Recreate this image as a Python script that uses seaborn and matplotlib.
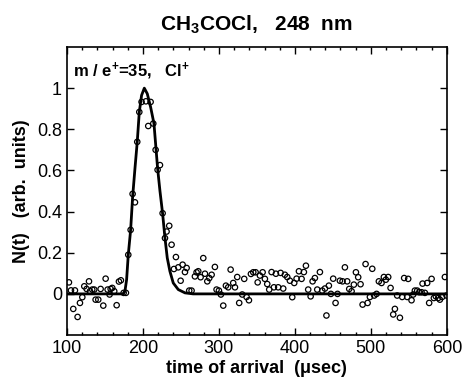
#!/usr/bin/env python3
import numpy as np
import pandas as pd
import matplotlib
matplotlib.use("Agg")
import matplotlib.pyplot as plt
import seaborn as sns
from matplotlib.ticker import MultipleLocator, FixedLocator, FixedFormatter

# measured arrival-time points (open circles)
t_data = [102.6, 105.3, 108.3, 110.5, 114.0, 117.1, 120.2, 122.8, 125.9, 129.0,
          130.3, 133.3, 135.9, 137.7, 141.2, 144.3, 147.8, 150.9, 153.5, 156.1,
          157.5, 159.6, 162.2, 165.4, 168.4, 171.0, 174.6, 177.6, 180.7, 183.8,
          186.4, 189.5, 192.5, 195.2, 198.2, 203.9, 207.0, 210.1, 213.6, 216.7,
          219.3, 222.4, 225.9, 229.0, 231.1, 234.6, 237.7, 240.8, 243.4, 246.5,
          249.6, 252.2, 255.3, 257.5, 260.9, 264.0, 268.4, 270.6, 272.8, 275.9,
          279.4, 281.6, 284.7, 287.3, 290.4, 294.7, 296.9, 300.0, 302.6, 305.7,
          309.2, 312.2, 315.4, 318.8, 321.1, 324.1, 326.7, 330.7, 333.3, 336.4,
          339.5, 342.1, 345.2, 348.3, 351.0, 354.0, 357.5, 360.5, 363.6, 366.2,
          369.3, 372.4, 375.0, 378.0, 381.2, 384.6, 386.8, 389.9, 393.4, 396.5,
          399.1, 402.2, 405.3, 408.8, 411.8, 414.5, 417.5, 420.7, 423.3, 426.3,
          429.4, 432.9, 436.0, 439.5, 441.5, 444.7, 447.4, 450.4, 453.5, 456.1,
          459.2, 462.7, 465.8, 468.8, 471.5, 474.6, 477.6, 480.3, 483.3, 486.4,
          489.1, 493.0, 495.7, 498.7, 501.8, 504.4, 507.5, 510.5, 514.0, 517.1,
          519.7, 522.8, 525.9, 529.4, 531.6, 534.6, 538.2, 541.2, 543.8, 547.8,
          549.1, 553.5, 555.7, 557.9, 561.0, 563.6, 566.7, 568.0, 571.1, 574.1,
          576.7, 579.9, 582.9, 585.5, 588.6, 590.8, 593.8, 597.4, 599.5]
n_data = [0.056, 0.017, -0.073, 0.017, -0.112, -0.044, -0.016, 0.037, 0.024, 0.061,
          0.013, 0.021, 0.021, -0.028, -0.028, 0.024, -0.057, 0.074, 0.021, -0.003,
          0.024, 0.029, 0.013, -0.055, 0.060, 0.066, 0.005, 0.005, 0.190, 0.311,
          0.486, 0.445, 0.739, 0.884, 0.933, 0.936, 0.816, 0.933, 0.828, 0.700,
          0.603, 0.626, 0.392, 0.271, 0.303, 0.331, 0.239, 0.121, 0.179, 0.129,
          0.064, 0.142, 0.106, 0.126, 0.016, 0.016, 0.085, 0.105, 0.110, 0.081,
          0.174, 0.098, 0.061, 0.077, 0.093, 0.131, 0.021, 0.016, -0.003, -0.057,
          0.040, 0.032, 0.118, 0.053, 0.032, 0.082, -0.044, -0.003, 0.073, -0.015,
          -0.031, 0.097, 0.105, 0.105, 0.056, 0.089, 0.105, 0.073, 0.048, 0.021,
          0.106, 0.032, 0.098, 0.032, 0.102, 0.026, 0.093, 0.082, 0.064, -0.016,
          0.053, 0.074, 0.110, 0.073, 0.106, 0.137, 0.021, -0.012, 0.061, 0.077,
          0.021, 0.106, 0.016, 0.026, -0.105, 0.040, 0.000, 0.074, -0.044, 0.000,
          0.064, 0.061, 0.129, 0.061, 0.024, 0.013, 0.045, 0.105, 0.081, 0.047,
          -0.052, 0.145, -0.044, -0.015, 0.122, -0.008, 0.000, 0.061, 0.053, 0.082,
          0.069, 0.082, 0.029, -0.100, -0.073, -0.008, -0.116, -0.015, 0.077, -0.015,
          0.073, -0.031, -0.003, 0.016, 0.016, 0.008, 0.008, 0.050, 0.005, 0.053,
          -0.044, 0.073, -0.020, -0.012, -0.020, -0.028, -0.015, 0.082, -0.008]

# fitted curve
t_fit = [100, 170, 174, 176.3, 178.5, 180.7, 183.8, 186.4, 189.5, 192.5, 195.2,
         198.2, 201.8, 205.7, 210.1, 214.5, 217.1, 219.3, 222.4, 225.9, 228.9,
         232.0, 235.5, 239.9, 246.5, 255.3, 266, 600]
n_fit = [0, 0, 0, 0.013, 0.069, 0.19, 0.311, 0.47, 0.61, 0.739, 0.884,
         0.965, 1.0, 0.973, 0.908, 0.828, 0.71, 0.61, 0.50, 0.39, 0.275,
         0.175, 0.11, 0.053, 0.021, 0.005, 0, 0]

y_ticks = [0, 0.2, 0.4, 0.6, 0.8, 1.0]
y_tick_labels = ["0", "0.2", "0.4", "0.6", "0.8", "1"]

sns.set_style("ticks")
plt.rcParams["font.family"] = ["Liberation Sans", "DejaVu Sans"]
plt.rcParams["mathtext.fontset"] = "custom"
plt.rcParams["mathtext.rm"] = "Liberation Sans:bold"
plt.rcParams["mathtext.bf"] = "Liberation Sans:bold"
plt.rcParams["mathtext.default"] = "rm"
plt.rcParams["text.color"] = "black"
plt.rcParams["axes.labelcolor"] = "black"
plt.rcParams["xtick.color"] = "black"
plt.rcParams["ytick.color"] = "black"

df_pts = pd.DataFrame({"t": t_data, "n": n_data})
df_fit = pd.DataFrame({"t": t_fit, "n": n_fit})

fig = plt.figure(figsize=(4.65, 3.79), dpi=100)
ax = fig.add_axes([0.144, 0.116, 0.817, 0.760])

sns.lineplot(data=df_fit, x="t", y="n", color="black", linewidth=2.0, ax=ax,
             zorder=2)
sns.scatterplot(data=df_pts, x="t", y="n", marker="o", s=15,
                facecolor="none", edgecolor="black", linewidth=0.9, ax=ax,
                zorder=3)

ax.set_xlim(100, 600)
ax.set_ylim(-0.2, 1.2)
ax.xaxis.set_major_locator(MultipleLocator(100))
ax.xaxis.set_minor_locator(MultipleLocator(20))
ax.yaxis.set_major_locator(FixedLocator(y_ticks))
ax.yaxis.set_major_formatter(FixedFormatter(y_tick_labels))
ax.tick_params(which="both", direction="in", top=True, right=True,
               labelsize=13, width=1.0, colors="black")
ax.tick_params(which="major", length=5)
ax.tick_params(which="minor", length=2.5)
for sp in ax.spines.values():
    sp.set_linewidth(1.2)
    sp.set_color("black")

ax.set_xlabel("time of arrival  (\u03bcsec)", fontsize=13, fontweight="bold",
              labelpad=2, color="black")
ax.set_ylabel("N(t)   (arb.  units)", fontsize=13, fontweight="bold",
              labelpad=5, color="black")
ax.set_title("CH$_3$COCl,   248  nm", fontsize=15, fontweight="bold", pad=12,
             color="black")
ax.text(0.015, 0.915, "m / e$^{+}$=35,   Cl$^{+}$", transform=ax.transAxes,
        fontsize=12, fontweight="bold", ha="left", va="center", color="black")

fig.savefig("out.png", dpi=100)
